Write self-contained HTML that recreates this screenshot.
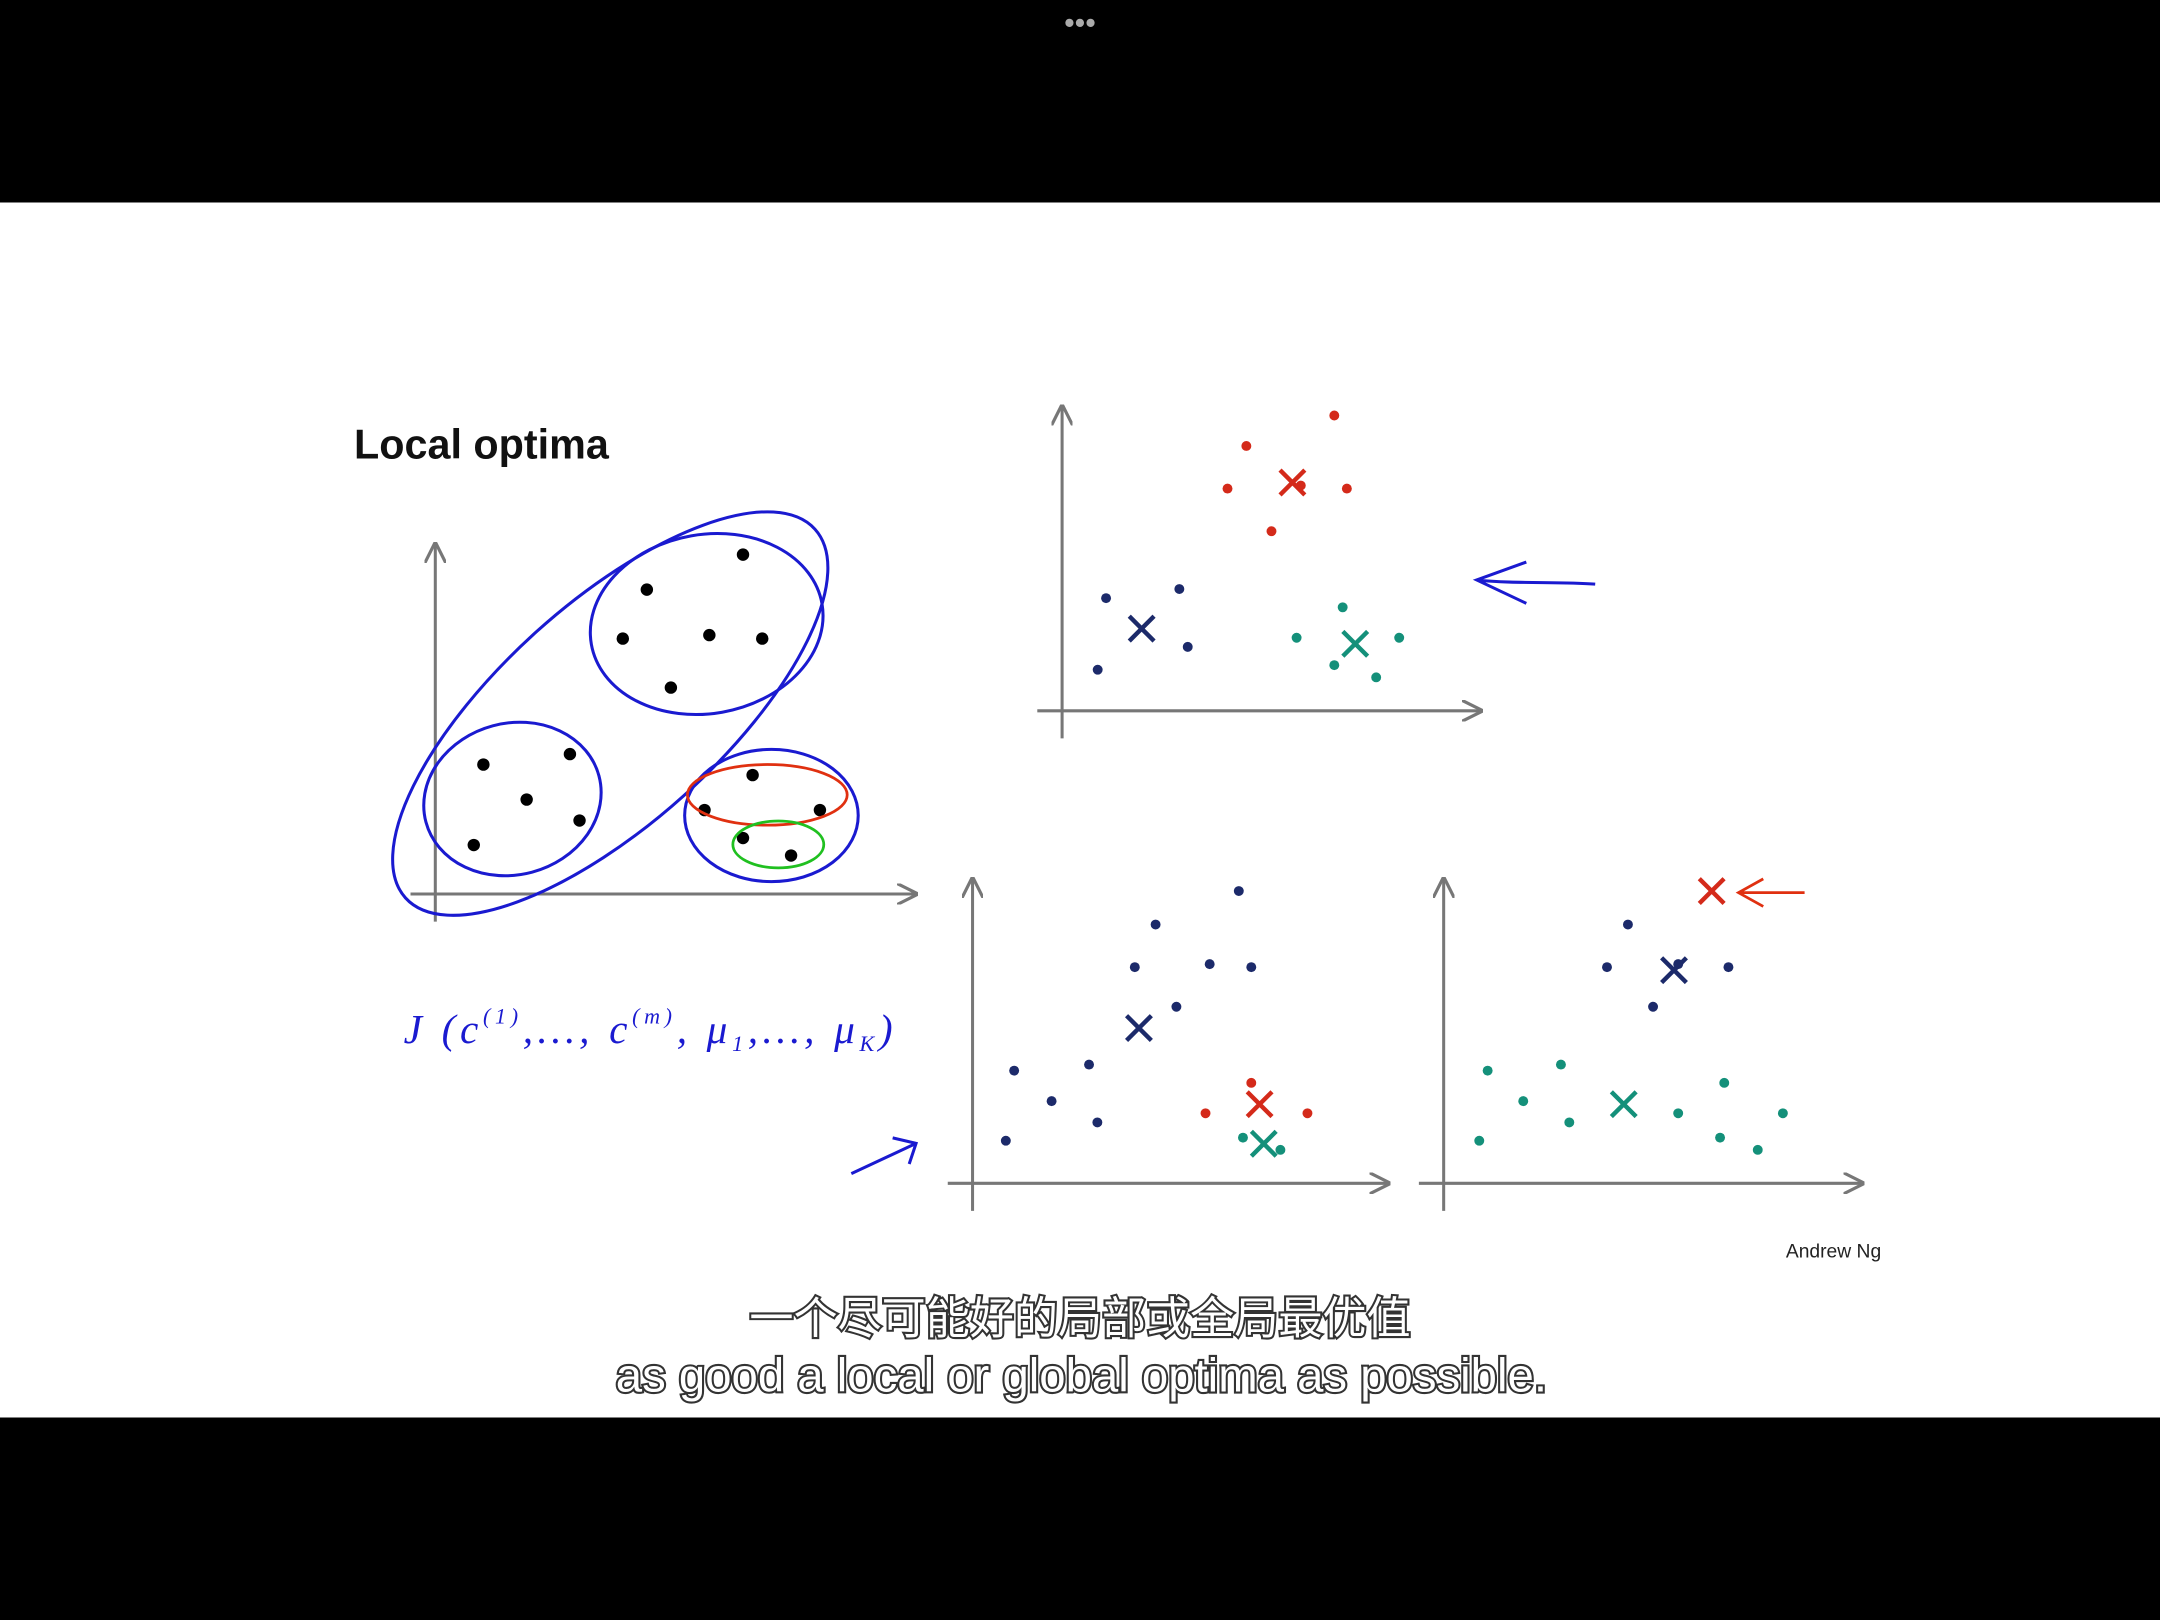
<!DOCTYPE html>
<html><head><meta charset="utf-8"><style>
html,body{margin:0;padding:0;background:#000;width:2160px;height:1620px;overflow:hidden}
svg{display:block}
.sub{font-family:"Liberation Sans","Noto Sans CJK SC",sans-serif;fill:#fff;stroke:#333;stroke-width:3px;paint-order:stroke;text-anchor:middle}
</style></head><body>
<svg id="s" width="2160" height="1620" viewBox="0 0 1568 1176" xmlns="http://www.w3.org/2000/svg">
<defs><marker id="ah" viewBox="0 0 10 10" refX="9" refY="5" markerWidth="7" markerHeight="7" orient="auto"><path d="M0,0 L10,5 L0,10" fill="none" stroke="#777" stroke-width="1.5"/></marker></defs>
<rect x="0" y="0" width="1568" height="147" fill="#000"/>
<text x="784" y="24" fill="#aaa" font-size="22" text-anchor="middle" font-family="Liberation Sans, sans-serif">•••</text>
<rect x="0" y="147" width="1568" height="882" fill="#fff"/>
<rect x="0" y="1029" width="1568" height="147" fill="#000"/>
<text x="257" y="333" font-family="Liberation Sans, sans-serif" font-weight="bold" font-size="30" fill="#111">Local optima</text>
<text x="1331" y="913" font-family="Liberation Sans, sans-serif" font-size="14" fill="#222" text-anchor="middle">Andrew Ng</text>
<g id="charts"></g>
<g fill="none" stroke="#1a1ad0" stroke-width="2.2">
<ellipse cx="513" cy="453" rx="85" ry="65" transform="rotate(-10 513 453)"/>
<ellipse cx="372" cy="580" rx="65" ry="55" transform="rotate(-15 372 580)"/>
<ellipse cx="443" cy="518" rx="200" ry="80" transform="rotate(-42 443 518)"/>
<ellipse cx="560" cy="592" rx="63" ry="48"/>
<path d="M1158,424 C1130,422 1100,424 1072,421 M1108,408 L1072,421 L1108,438"/>
<path d="M618,852 L665,830 M648,826 L665,830 L660,845"/>
</g>
<ellipse cx="557" cy="577" rx="58" ry="22" fill="none" stroke="#e03010" stroke-width="2"/>
<ellipse cx="565" cy="613" rx="33" ry="17" fill="none" stroke="#20c020" stroke-width="2"/>
<path d="M1310,648 L1262,648 M1280,638 L1262,648 L1280,658" fill="none" stroke="#e03010" stroke-width="2"/>
<text x="293" y="757" textLength="355" lengthAdjust="spacing" font-family="Liberation Serif, serif" font-style="italic" font-size="30" fill="#1a1ad0">J (c<tspan font-size="16" dy="-14">(1)</tspan><tspan dy="14">,…, c</tspan><tspan font-size="16" dy="-14">(m)</tspan><tspan dy="14">, μ</tspan><tspan font-size="16" dy="6">1</tspan><tspan dy="-6">,…, μ</tspan><tspan font-size="16" dy="6">K</tspan><tspan dy="-6">)</tspan></text>
<text class="sub" x="784" y="968" font-size="32">一个尽可能好的局部或全局最优值</text>
<text class="sub" x="785" y="1010" font-size="34" textLength="676" lengthAdjust="spacingAndGlyphs">as good a local or global optima as possible.</text>
</svg>
<script>
// chart data (domain 0-10 each axis)
const leftBlack = [[6.4,9.7],[4.4,8.7],[3.9,7.3],[5.7,7.4],[6.8,7.3],[4.9,5.9],[1.0,3.7],[2.8,4.0],[1.9,2.7],[3.0,2.1],[0.8,1.4],[6.6,3.4],[5.6,2.4],[8.0,2.4],[6.4,1.6],[7.4,1.1]];
const c1Blue = [[1.05,3.7],[2.8,4.0],[0.85,1.35],[3.0,2.1]];
const c1Red = [[6.5,9.7],[4.4,8.7],[3.95,7.3],[5.7,7.4],[6.8,7.3],[5.0,5.9]];
const c1Green = [[6.7,3.4],[5.6,2.4],[8.05,2.4],[6.5,1.5],[7.5,1.1]];
const c1Cent = [[1.9,2.7,'blue'],[5.5,7.5,'red'],[7.0,2.2,'green']];
const c2Blue = [[4.4,8.5],[6.4,9.6],[3.9,7.1],[5.7,7.2],[6.7,7.1],[4.9,5.8],[1.0,3.7],[2.8,3.9],[1.9,2.7],[3.0,2.0],[0.8,1.4]];
const c2Red = [[6.7,3.3],[5.6,2.3],[8.05,2.3]];
const c2Green = [[6.5,1.5],[7.4,1.1]];
const c2Cent = [[4.0,5.1,'blue'],[6.9,2.6,'red'],[7.0,1.3,'green']];
const c3Blue = [[4.4,8.5],[3.9,7.1],[5.6,7.2],[6.8,7.1],[5.0,5.8]];
const c3Green = [[1.05,3.7],[2.8,3.9],[1.9,2.7],[3.0,2.0],[0.85,1.4],[5.6,2.3],[6.7,3.3],[8.1,2.3],[6.6,1.5],[7.5,1.1]];
const c3Cent = [[5.5,7.0,'blue'],[6.4,9.6,'red'],[4.3,2.6,'green']];

const COL={blue:'#1c2a6a',red:'#d42a1a',green:'#14907a',black:'#000'};
const NS='http://www.w3.org/2000/svg';
const G=document.getElementById('charts');
function mk(t,a){const e=document.createElementNS(NS,t);for(const k in a)e.setAttribute(k,a[k]);G.appendChild(e);return e;}
function chart(ox,oy,w,h,name){
  const x=v=>ox+v*w/10, y=v=>oy-v*h/10;
  const xa=mk('line',{x1:ox-18,y1:oy,x2:ox+w,y2:oy,stroke:'#777','stroke-width':2.2,'marker-end':'url(#ah)'});
  
  
  const ya=mk('line',{x1:ox,y1:oy+20,x2:ox,y2:oy-h,stroke:'#777','stroke-width':2.2,'marker-end':'url(#ah)'});
  
  
  return {x,y};
}
function dots(ax,arr,c,r,name){arr.forEach(p=>{
  const e=mk('circle',{cx:ax.x(p[0]),cy:ax.y(p[1]),r:r,fill:COL[c]});
  
  
});}
function cents(ax,arr,name){arr.forEach(p=>{
  const cx=ax.x(p[0]),cy=ax.y(p[1]),s=9;
  const e=mk('path',{d:`M${cx-s},${cy-s}L${cx+s},${cy+s}M${cx+s},${cy-s}L${cx-s},${cy+s}`,stroke:COL[p[2]],'stroke-width':3.2,fill:'none'});
  
  
});}
const a0=chart(316,649,349,254,'left-chart'); dots(a0,leftBlack,'black',4.5,'data-point');
const a1=chart(771,516,304,221,'top-chart'); dots(a1,c1Blue,'blue',3.6,'blue-point');dots(a1,c1Red,'red',3.6,'red-point');dots(a1,c1Green,'green',3.6,'green-point');cents(a1,c1Cent,'top');
const a2=chart(706,859,302,221,'bottom-left-chart'); dots(a2,c2Blue,'blue',3.6,'blue-point');dots(a2,c2Red,'red',3.6,'red-point');dots(a2,c2Green,'green',3.6,'green-point');cents(a2,c2Cent,'bl');
const a3=chart(1048,859,304,221,'bottom-right-chart'); dots(a3,c3Blue,'blue',3.6,'blue-point');dots(a3,c3Green,'green',3.6,'green-point');cents(a3,c3Cent,'br');
</script>
</body></html>
